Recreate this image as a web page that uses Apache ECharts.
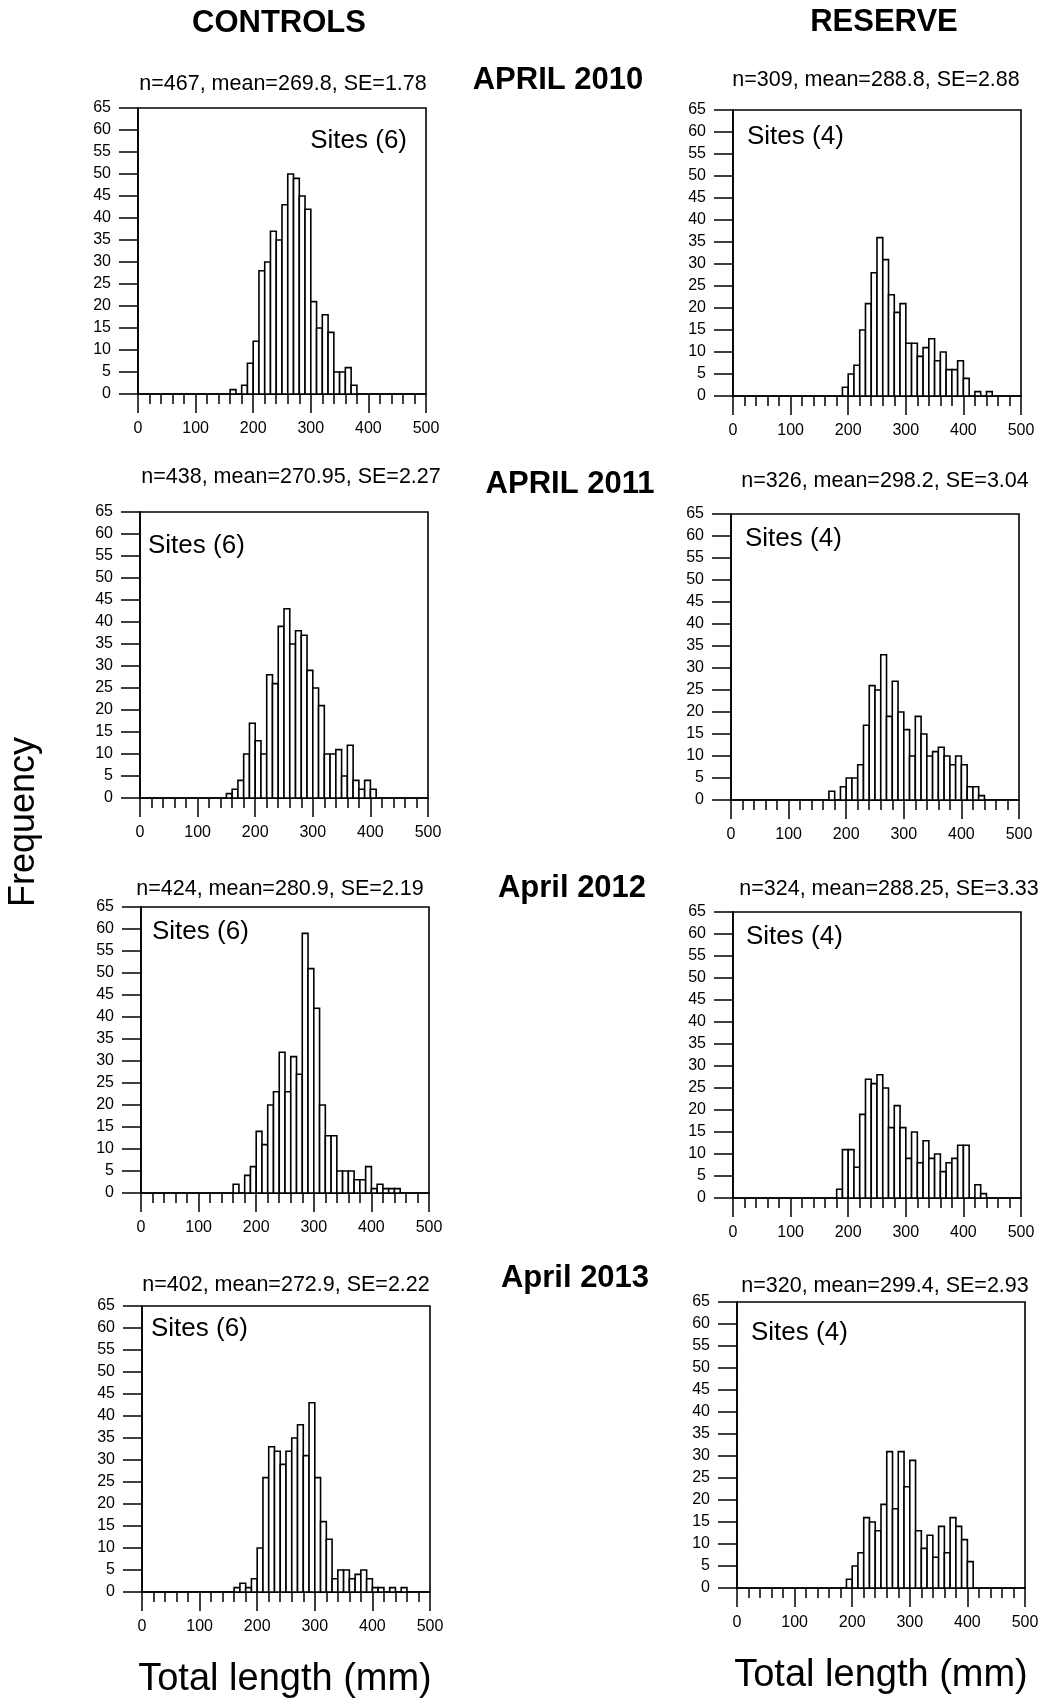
<!DOCTYPE html>
<html>
<head>
<meta charset="utf-8">
<script src="https://cdn.jsdelivr.net/npm/echarts@6/dist/echarts.min.js"></script>
<style>
html,body{margin:0;padding:0;background:#fff;}
#chart{width:1046px;height:1701px;}
</style>
</head>
<body>
<div id="chart"></div>
<script>
// ---------- DATA ----------
const binWidth = 10;
const xTicks = [0, 100, 200, 300, 400, 500];
const yMax = 65;
const yStep = 5;

const ctl2010Start = 160;
const ctl2010Counts = [1,0,2,7,12,28,30,37,35,43,50,49,45,42,21,15,18,14,5,5,6,2];
const res2010Start = 190;
const res2010Counts = [2,5,7,15,21,28,36,31,23,19,21,12,12,9,11,13,8,10,6,6,8,4,0,1,0,1];
const ctl2011Start = 150;
const ctl2011Counts = [1,2,4,10,17,13,10,28,26,39,43,35,38,37,29,25,21,10,10,11,5,12,4,2,4,2];
const res2011Start = 170;
const res2011Counts = [2,0,3,5,5,8,17,26,25,33,19,27,20,16,10,19,15,10,11,12,10,8,10,8,3,3,1];
const ctl2012Start = 160;
const ctl2012Counts = [2,0,4,6,14,11,20,23,32,23,31,27,59,51,42,20,13,13,5,5,5,3,3,6,1,2,1,1,1];
const res2012Start = 180;
const res2012Counts = [2,11,11,7,19,27,26,28,25,16,21,16,9,15,8,13,9,10,6,8,9,12,12,0,3,1];
const ctl2013Start = 160;
const ctl2013Counts = [1,2,1,3,10,26,33,32,29,32,35,38,31,43,26,16,12,3,5,5,3,4,5,3,1,1,0,1,0,1];
const res2013Start = 190;
const res2013Counts = [2,5,8,16,15,13,19,31,18,31,23,29,13,9,12,7,14,8,16,14,11,6];

const panelStats = [
  "n=467, mean=269.8, SE=1.78", "n=309, mean=288.8, SE=2.88",
  "n=438, mean=270.95, SE=2.27", "n=326, mean=298.2, SE=3.04",
  "n=424, mean=280.9, SE=2.19", "n=324, mean=288.25, SE=3.33",
  "n=402, mean=272.9, SE=2.22", "n=320, mean=299.4, SE=2.93"
];
const siteLabels = ["Sites (6)", "Sites (4)", "Sites (6)", "Sites (4)", "Sites (6)", "Sites (4)", "Sites (6)", "Sites (4)"];
const yearLabels = ["APRIL 2010", "APRIL 2011", "April 2012", "April 2013"];
const columnLabels = ["CONTROLS", "RESERVE"];
const yAxisTitle = "Frequency";
const xAxisTitle = "Total length (mm)";

// ---------- LAYOUT ----------
const panels = [
  {start: ctl2010Start, counts: ctl2010Counts},
  {start: res2010Start, counts: res2010Counts},
  {start: ctl2011Start, counts: ctl2011Counts},
  {start: res2011Start, counts: res2011Counts},
  {start: ctl2012Start, counts: ctl2012Counts},
  {start: res2012Start, counts: res2012Counts},
  {start: ctl2013Start, counts: ctl2013Counts},
  {start: res2013Start, counts: res2013Counts}
];
const gridPos = [
  [138, 108], [733, 110],
  [140, 512], [731, 514],
  [141, 907], [733, 912],
  [142, 1306], [737, 1302]
];
const gridW = 288, gridH = 286;
const statPos = [[283,84],[876,80],[291,477],[885,481],[280,889],[889,889],[286,1285],[885,1286]];
const sitePos = [[407,141,'right'],[747,137,'left'],[148,546,'left'],[745,539,'left'],[152,932,'left'],[746,937,'left'],[151,1329,'left'],[751,1333,'left']];
const yearPos = [[558,80],[570,484],[572,888],[575,1278]];

const FONT = "'Liberation Sans', Arial, Helvetica, sans-serif";

const grids = [], xAxes = [], yAxes = [], series = [], graphics = [];
panels.forEach((p, i) => {
  grids.push({left: gridPos[i][0], top: gridPos[i][1], width: gridW, height: gridH,
    show: true, borderColor: '#000', borderWidth: 1.6, backgroundColor: '#fff'});
  xAxes.push({type: 'value', gridIndex: i, min: xTicks[0], max: xTicks[xTicks.length-1], interval: 100,
    axisLine: {show: true, onZero: false, lineStyle: {color: '#000', width: 1.6}},
    axisTick: {show: true, inside: false, length: 19, lineStyle: {color: '#000', width: 1.5}},
    minorTick: {show: true, splitNumber: 5, length: 10, lineStyle: {color: '#000', width: 1.5}},
    splitLine: {show: false}, minorSplitLine: {show: false},
    axisLabel: {show: true, margin: 27, color: '#000', fontSize: 16, fontFamily: FONT}
  });
  yAxes.push({type: 'value', gridIndex: i, min: 0, max: yMax, interval: yStep,
    axisLine: {show: true, lineStyle: {color: '#000', width: 1.6}},
    axisTick: {show: true, inside: false, length: 19, lineStyle: {color: '#000', width: 1.5}},
    splitLine: {show: false},
    axisLabel: {show: true, margin: 27, color: '#000', fontSize: 16, fontFamily: FONT}
  });
  const data = [];
  p.counts.forEach((c, k) => { if (c > 0) data.push([p.start + k * binWidth, c]); });
  series.push({type: 'custom', xAxisIndex: i, yAxisIndex: i, data: data, silent: true,
    renderItem: function (params, api) {
      const x0 = api.value(0), c = api.value(1);
      const a = api.coord([x0, c]);
      const b = api.coord([x0 + binWidth, 0]);
      return {type: 'rect', shape: {x: a[0], y: a[1], width: b[0] - a[0], height: b[1] - a[1]},
        style: {fill: '#fff', stroke: '#000', lineWidth: 1.6}};
    }
  });
  graphics.push({type: 'text', x: statPos[i][0], y: statPos[i][1],
    style: {text: panelStats[i], font: '21.5px ' + FONT, fill: '#000', textAlign: 'center', textVerticalAlign: 'middle'}});
  graphics.push({type: 'text', x: sitePos[i][0], y: sitePos[i][1],
    style: {text: siteLabels[i], font: '26px ' + FONT, fill: '#000', textAlign: sitePos[i][2], textVerticalAlign: 'middle'}});
});
yearLabels.forEach((t, j) => {
  graphics.push({type: 'text', x: yearPos[j][0], y: yearPos[j][1],
    style: {text: t, font: 'bold 31px ' + FONT, fill: '#000', textAlign: 'center', textVerticalAlign: 'middle'}});
});
graphics.push({type: 'text', x: 279, y: 23, style: {text: columnLabels[0], font: 'bold 31px ' + FONT, fill: '#000', textAlign: 'center', textVerticalAlign: 'middle'}});
graphics.push({type: 'text', x: 884, y: 22, style: {text: columnLabels[1], font: 'bold 31px ' + FONT, fill: '#000', textAlign: 'center', textVerticalAlign: 'middle'}});
graphics.push({type: 'text', x: 24, y: 822, rotation: Math.PI / 2, style: {text: yAxisTitle, font: '36px ' + FONT, fill: '#000', textAlign: 'center', textVerticalAlign: 'middle'}});
graphics.push({type: 'text', x: 285, y: 1680, style: {text: xAxisTitle, font: '38px ' + FONT, fill: '#000', textAlign: 'center', textVerticalAlign: 'middle'}});
graphics.push({type: 'text', x: 881, y: 1676, style: {text: xAxisTitle, font: '38px ' + FONT, fill: '#000', textAlign: 'center', textVerticalAlign: 'middle'}});

const chart = echarts.init(document.getElementById('chart'), null, {renderer: 'canvas'});
chart.setOption({
  animation: false,
  backgroundColor: '#fff',
  grid: grids, xAxis: xAxes, yAxis: yAxes, series: series, graphic: graphics
});
</script>
</body>
</html>
